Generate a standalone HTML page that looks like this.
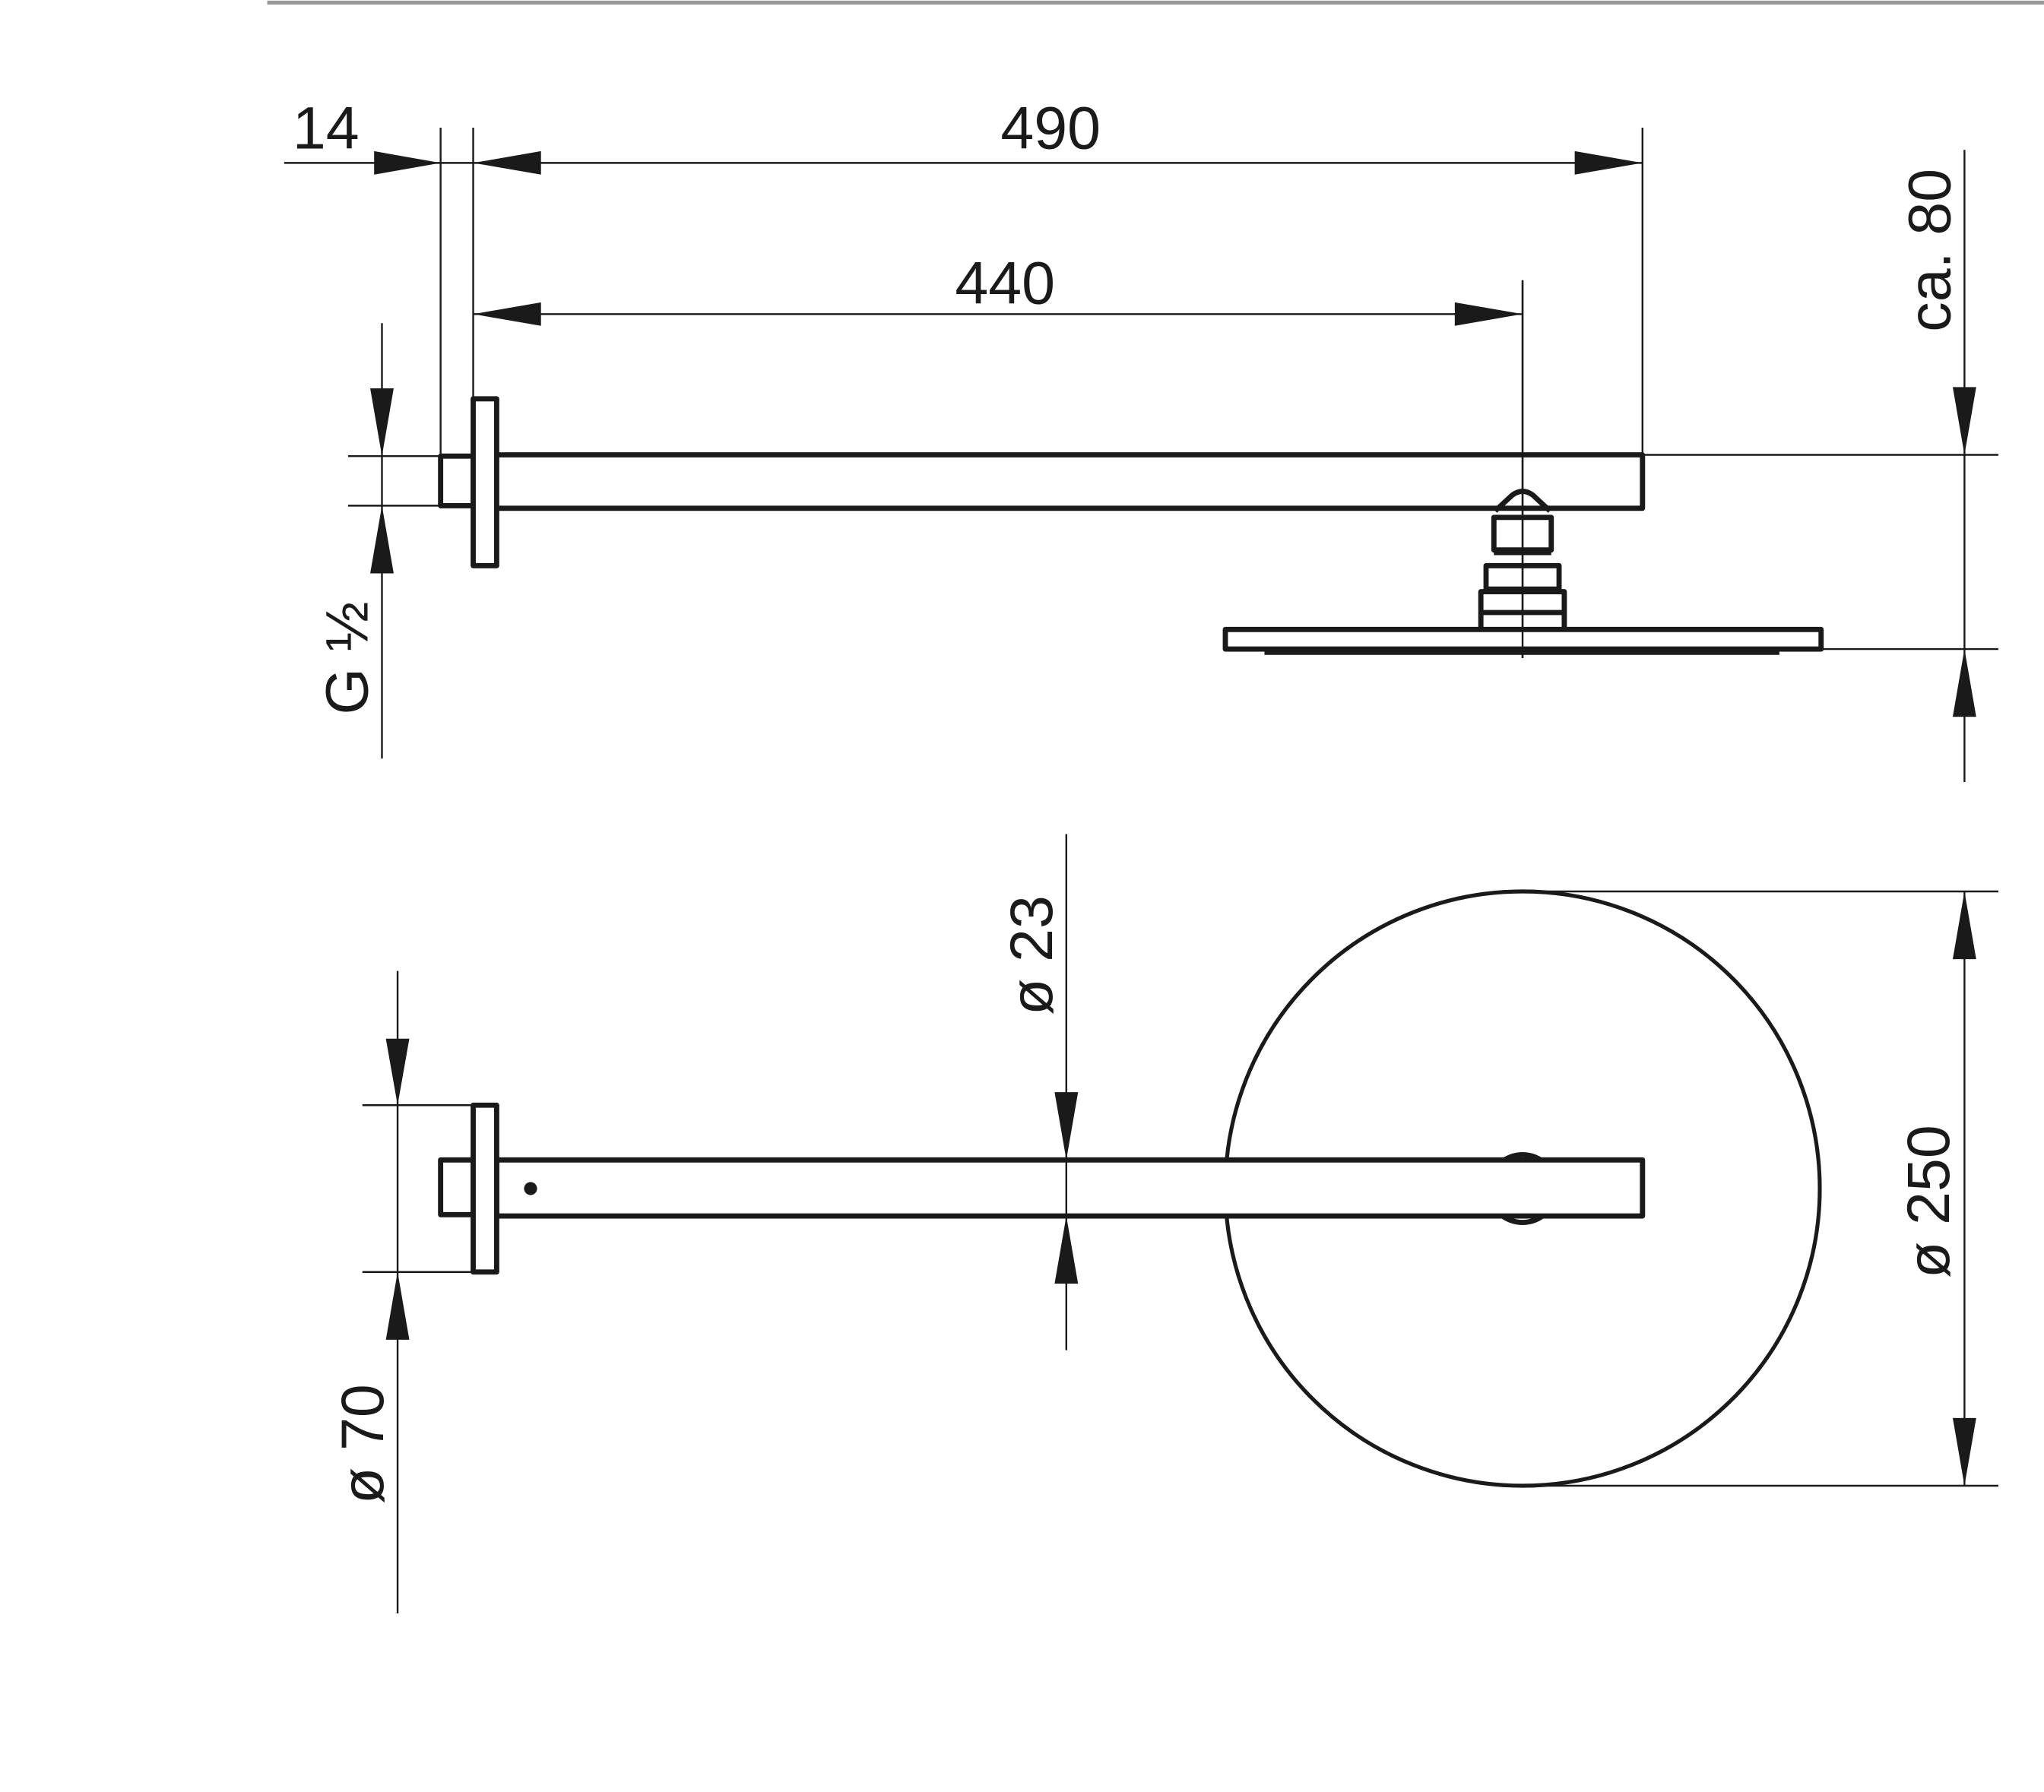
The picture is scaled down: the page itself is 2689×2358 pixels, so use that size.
<!DOCTYPE html>
<html><head><style>html,body{margin:0;padding:0;background:#fff}svg{display:block}</style></head>
<body>
<svg width="2689" height="2358" viewBox="0 0 1568 1375" xmlns="http://www.w3.org/2000/svg" font-family="Liberation Sans, sans-serif" font-size="46" fill="#1a1a1a">
<rect x="0" y="0" width="1568" height="1375" fill="#fff"/>
<line x1="205" y1="2" x2="1568" y2="2" stroke="#999" stroke-width="3"/>
<g stroke="#1a1a1a" stroke-width="1.4" fill="none">
<!-- top dims -->
<line x1="218" y1="125" x2="1260" y2="125"/>
<line x1="338" y1="98" x2="338" y2="390"/>
<line x1="363" y1="98" x2="363" y2="306"/>
<line x1="1260" y1="98" x2="1260" y2="350"/>
<line x1="363" y1="241" x2="1168" y2="241"/>
<line x1="1168" y1="215" x2="1168" y2="505"/>
<line x1="293" y1="248" x2="293" y2="582"/>
<line x1="267" y1="350" x2="338" y2="350"/>
<line x1="267" y1="388" x2="338" y2="388"/>
<line x1="1507" y1="115" x2="1507" y2="600"/>
<line x1="1260" y1="349" x2="1533" y2="349"/>
<line x1="1398" y1="498" x2="1533" y2="498"/>
<!-- bottom dims -->
<line x1="305" y1="745" x2="305" y2="1238"/>
<line x1="278" y1="848" x2="363" y2="848"/>
<line x1="278" y1="976" x2="363" y2="976"/>
<line x1="818" y1="640" x2="818" y2="1036"/>
<line x1="1507" y1="684" x2="1507" y2="1140"/>
<line x1="1168" y1="684" x2="1533" y2="684"/>
<line x1="1168" y1="1140" x2="1533" y2="1140"/>
</g>
<g fill="#1a1a1a" stroke="none">
<polygon points="338,125 287,116 287,134"/>
<polygon points="363,125 415,116 415,134"/>
<polygon points="1260,125 1208,116 1208,134"/>
<polygon points="363,241 415,232 415,250"/>
<polygon points="1168,241 1116,232 1116,250"/>
<polygon points="293,350 284,298 302,298"/>
<polygon points="293,388 284,440 302,440"/>
<polygon points="1507,349 1498,297 1516,297"/>
<polygon points="1507,498 1498,550 1516,550"/>
<polygon points="305,848 296,797 314,797"/>
<polygon points="305,976 296,1028 314,1028"/>
<polygon points="818,890 809,838 827,838"/>
<polygon points="818,933 809,985 827,985"/>
<polygon points="1507,684 1498,736 1516,736"/>
<polygon points="1507,1140 1498,1088 1516,1088"/>
</g>
<!-- side view -->
<g stroke="#1a1a1a" stroke-width="4" fill="none" stroke-linejoin="round">
<rect x="338" y="350" width="25" height="38"/>
<rect x="363" y="306" width="18" height="128" fill="#fff"/>
<polyline points="381,349 1260,349 1260,390 381,390"/>
<path d="M1147,392 L1160,380 Q1168,374 1176,380 L1189,392"/>
<rect x="1146" y="397" width="44" height="25"/>
<line x1="1146" y1="424" x2="1190" y2="424"/>
<rect x="1140" y="434" width="56" height="18"/>
<rect x="1136" y="454" width="64" height="30"/>
<line x1="1136" y1="470" x2="1200" y2="470"/>
<rect x="940" y="483" width="457" height="15" fill="#fff"/>
<line x1="970" y1="501" x2="1365" y2="501" stroke-width="3"/>
</g>
<line x1="1168" y1="215" x2="1168" y2="505" stroke="#1a1a1a" stroke-width="1.4"/>
<!-- plan view -->
<g stroke="#1a1a1a" stroke-width="3" fill="none">
<circle cx="1168" cy="912" r="228"/>
<circle cx="1168" cy="912" r="26" stroke-width="4"/>
<circle cx="1168" cy="912" r="20" stroke-width="2"/>
</g>
<g stroke="#1a1a1a" stroke-width="4" fill="#fff" stroke-linejoin="round">
<rect x="381" y="890" width="879" height="43"/>
<rect x="338" y="890" width="25" height="42"/>
<rect x="363" y="848" width="18" height="128"/>
</g>
<line x1="818" y1="890" x2="818" y2="933" stroke="#1a1a1a" stroke-width="1.4"/>
<circle cx="407" cy="912" r="5" fill="#1a1a1a"/>
<!-- text -->
<text x="250" y="114" text-anchor="middle">14</text>
<text x="806" y="114" text-anchor="middle">490</text>
<text x="771" y="233" text-anchor="middle">440</text>
<text transform="translate(282,505) rotate(-90)" text-anchor="middle">G ½</text>
<text transform="translate(1496,192) rotate(-90)" text-anchor="middle">ca. 80</text>
<text transform="translate(294,1108) rotate(-90)" text-anchor="middle">ø 70</text>
<text transform="translate(807,733) rotate(-90)" text-anchor="middle">ø 23</text>
<text transform="translate(1495,922) rotate(-90)" text-anchor="middle">ø 250</text>
</svg>
</body></html>
